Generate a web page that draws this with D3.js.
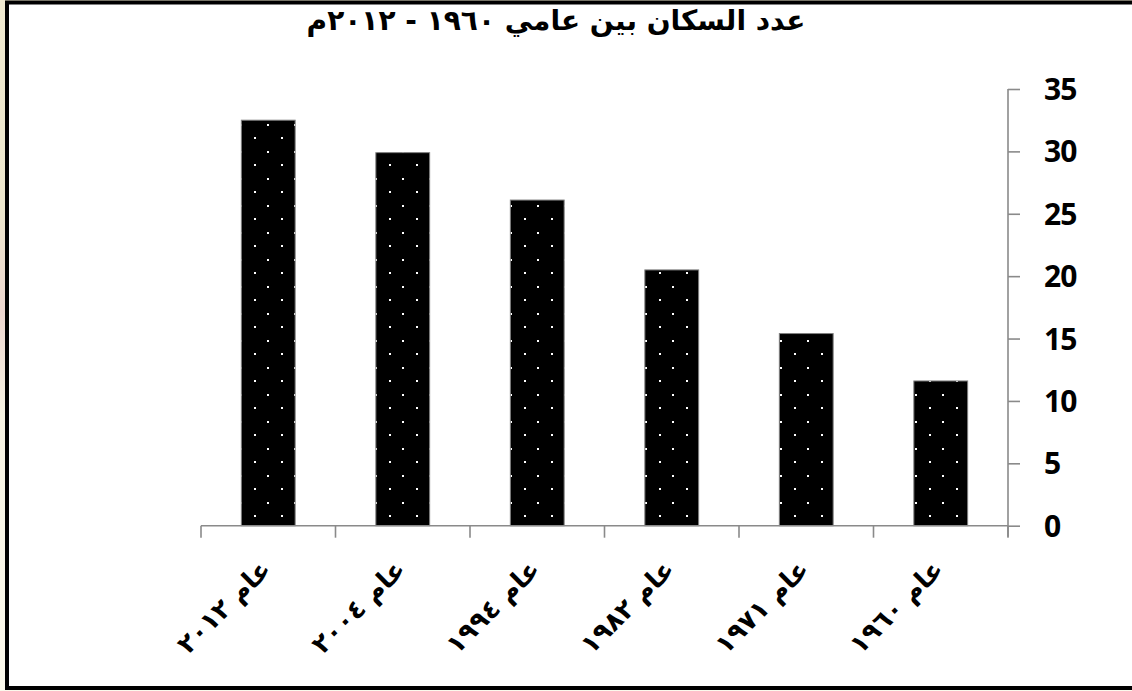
<!DOCTYPE html>
<html>
<head>
<meta charset="utf-8">
<script src="https://cdn.jsdelivr.net/npm/d3@7"></script>
<style>
  html, body { margin: 0; padding: 0; background: #fff; }
  svg { display: block; }
</style>
</head>
<body>
<svg id="chart" width="1132" height="691"></svg>
<script>
// Population (millions) by census year, drawn right-to-left as in the printed figure
const categories = ["عام ٢٠١٢", "عام ٢٠٠٤", "عام ١٩٩٤", "عام ١٩٨٢", "عام ١٩٧١", "عام ١٩٦٠"];
const population = [32.5, 29.9, 26.1, 20.5, 15.4, 11.6];
const yTicks = [0, 5, 10, 15, 20, 25, 30, 35];
const title = "عدد السكان بين عامي ١٩٦٠ - ٢٠١٢م";

const W = 1132, H = 691;
const plot = { left: 201, right: 1008, top: 89, bottom: 525.7 };

const svg = d3.select("#chart");
const defs = svg.append("defs");

// soft paper tint outside the frame
const bg = defs.append("linearGradient").attr("id", "paper")
  .attr("x1", 0).attr("y1", 0).attr("x2", 0).attr("y2", 1);
[["0%", "#efe9cf"], ["30%", "#ece6cc"], ["45%", "#ecd6cf"], ["60%", "#f6f2e2"], ["100%", "#fbf9ec"]]
  .forEach(([o, c]) => bg.append("stop").attr("offset", o).attr("stop-color", c));
svg.append("rect").attr("width", W).attr("height", H).attr("fill", "url(#paper)");

// framed white chart area
svg.append("rect")
  .attr("x", 7).attr("y", 2.5).attr("width", 1200).attr("height", 685.5)
  .attr("fill", "#fff").attr("stroke", "#000").attr("stroke-width", 4);

// dotted fill used by the bars
const dots = defs.append("pattern").attr("id", "dots")
  .attr("patternUnits", "userSpaceOnUse")
  .attr("width", 27).attr("height", 27);
dots.append("rect").attr("width", 27).attr("height", 27).attr("fill", "#000");
dots.append("rect").attr("x", 11).attr("y", 2).attr("width", 2).attr("height", 2).attr("fill", "#fff");
dots.append("rect").attr("x", 24).attr("y", 16).attr("width", 2).attr("height", 2).attr("fill", "#fff");

const x = d3.scaleBand().domain(categories).range([plot.left, plot.right])
  .paddingInner(0.6).paddingOuter(0.3);
const y = d3.scaleLinear().domain([0, 35]).range([plot.bottom, plot.top]);

// bars
svg.append("g").selectAll("rect").data(categories).join("rect")
  .attr("x", d => x(d))
  .attr("y", (d, i) => y(population[i]))
  .attr("width", x.bandwidth())
  .attr("height", (d, i) => y(0) - y(population[i]))
  .attr("fill", "url(#dots)")
  .attr("stroke", "#7f7f7f").attr("stroke-width", 1);

const axisColor = "#8a8a8a";

// value axis on the right
const yAxis = svg.append("g").attr("transform", `translate(${plot.right},0)`)
  .call(d3.axisRight(y).tickValues(yTicks).tickSize(12).tickPadding(24).tickFormat(d3.format("d")));
yAxis.select(".domain").attr("stroke", axisColor).attr("stroke-width", 1.6)
  .attr("d", `M0,${plot.top}V${plot.bottom + 11}`);
yAxis.selectAll(".tick line").attr("stroke", axisColor).attr("stroke-width", 1.6);
yAxis.selectAll(".tick text")
  .attr("font-family", "'Open Sans', sans-serif")
  .attr("font-weight", 700).attr("font-size", 30).attr("fill", "#000")
  .attr("letter-spacing", -1)
  .attr("dy", "0.35em");

// category axis with ticks at band boundaries
const xAxis = svg.append("g");
xAxis.append("line")
  .attr("x1", plot.left).attr("x2", plot.right)
  .attr("y1", y(0)).attr("y2", y(0))
  .attr("stroke", axisColor).attr("stroke-width", 1.6);
const bounds = d3.range(categories.length + 1).map(i => plot.left + (plot.right - plot.left) * i / categories.length);
xAxis.selectAll("line.tk").data(bounds).join("line").attr("class", "tk")
  .attr("x1", d => d).attr("x2", d => d)
  .attr("y1", y(0)).attr("y2", y(0) + 12)
  .attr("stroke", axisColor).attr("stroke-width", 1.6);

// rotated year labels
xAxis.selectAll("text").data(categories).join("text")
  .attr("transform", d => `translate(${x(d) + x.bandwidth() / 2 + 4},${571}) rotate(-45)`)
  .attr("text-anchor", "end")
  .attr("font-family", "'DejaVu Sans', sans-serif")
  .attr("font-weight", "bold").attr("font-size", 26).attr("fill", "#000")
  .text(d => d);

// title
svg.append("text")
  .attr("x", 556).attr("y", 30)
  .attr("text-anchor", "middle")
  .attr("font-family", "'DejaVu Sans', sans-serif")
  .attr("font-weight", "bold").attr("font-size", 28).attr("fill", "#000")
  .text(title);
</script>
</body>
</html>
